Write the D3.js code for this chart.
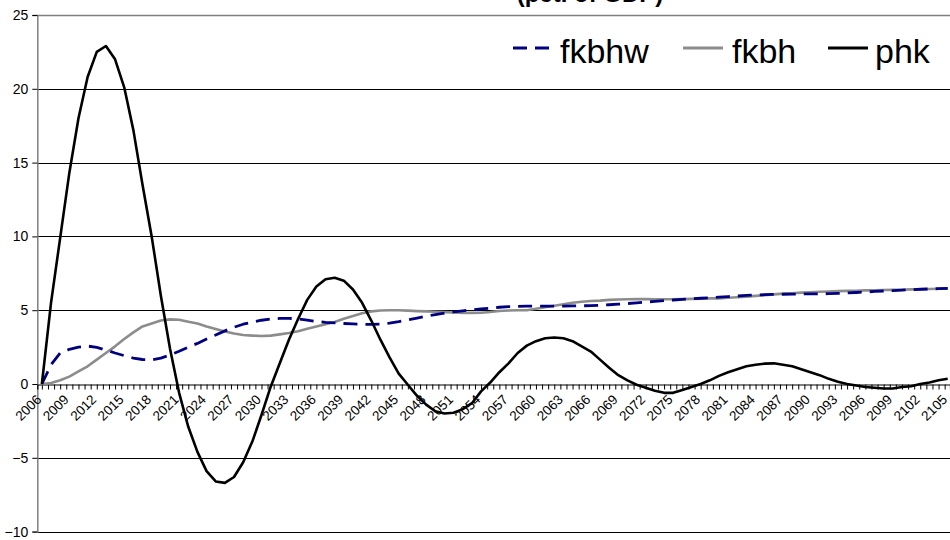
<!DOCTYPE html>
<html>
<head>
<meta charset="utf-8">
<script src="https://cdn.jsdelivr.net/npm/d3@7"></script>
<style>
  html, body { margin: 0; padding: 0; background: #fff; }
  svg { display: block; font-family: "Liberation Sans", Arial, sans-serif; }
</style>
</head>
<body>
<svg id="chart" width="950" height="540"></svg>
<script>
// Years on the category axis
const years = d3.range(2006, 2106);

// Series values, one per year (2006–2105)
const fkbhw = [
  0, 1.3, 2.1, 2.35, 2.5, 2.57, 2.48, 2.3, 2.1, 1.92,
  1.76, 1.66, 1.64, 1.75, 1.97, 2.22, 2.5, 2.75, 3.05, 3.32,
  3.6, 3.85, 4.05, 4.2, 4.32, 4.4, 4.44, 4.45, 4.41, 4.33,
  4.24, 4.18, 4.14, 4.1, 4.07, 4.05, 4.04, 4.06, 4.12, 4.22,
  4.35, 4.47, 4.6, 4.7, 4.8, 4.88, 4.96, 5.03, 5.09, 5.14,
  5.2, 5.24, 5.26, 5.27, 5.28, 5.28, 5.28, 5.28, 5.29, 5.3,
  5.31, 5.34, 5.37, 5.41, 5.45, 5.5, 5.55, 5.6, 5.65, 5.69,
  5.73, 5.77, 5.81, 5.85, 5.88, 5.92, 5.96, 6.0, 6.03, 6.05,
  6.07, 6.08, 6.09, 6.1, 6.1, 6.1, 6.12, 6.14, 6.17, 6.2,
  6.23, 6.27, 6.3, 6.33, 6.36, 6.39, 6.42, 6.44, 6.46, 6.48
];
const fkbh = [
  0, 0.06, 0.25, 0.5, 0.85, 1.2, 1.65, 2.1, 2.55, 3.05,
  3.5, 3.9, 4.1, 4.3, 4.38, 4.35, 4.22, 4.1, 3.9, 3.72,
  3.55, 3.42, 3.32, 3.28, 3.25, 3.28, 3.36, 3.45, 3.58, 3.75,
  3.9, 4.05, 4.2, 4.42, 4.6, 4.8, 4.92, 4.98, 5.0, 5.0,
  4.97, 4.94, 4.92, 4.9, 4.87, 4.84, 4.82, 4.82, 4.83, 4.88,
  4.95, 4.98, 5.0, 5.0, 5.1, 5.2, 5.3, 5.4, 5.5, 5.57,
  5.62, 5.65, 5.7, 5.73, 5.74, 5.75, 5.75, 5.74, 5.74, 5.74,
  5.75, 5.77, 5.78, 5.8, 5.8, 5.84, 5.88, 5.92, 5.97, 6.02,
  6.07, 6.12, 6.15, 6.19, 6.22, 6.25, 6.27, 6.29, 6.31, 6.32,
  6.34, 6.35, 6.37, 6.38, 6.39, 6.41, 6.42, 6.44, 6.45, 6.46
];
const phk = [
  0, 5.5, 9.9, 14.3, 18.0, 20.8, 22.5, 22.9, 22.0, 20.1,
  17.2, 13.5, 10.0, 6.0, 2.4, -0.6, -2.9, -4.6, -5.9, -6.6,
  -6.7, -6.3, -5.3, -3.9, -2.1, -0.2, 1.4, 3.0, 4.4, 5.7,
  6.6, 7.1, 7.2, 7.0, 6.4, 5.5, 4.3, 3.0, 1.8, 0.7,
  -0.05, -0.8, -1.4, -1.85, -2.0, -1.95, -1.7, -1.3, -0.5, 0.1,
  0.8, 1.4, 2.1, 2.6, 2.9, 3.1, 3.15, 3.1, 2.9, 2.55,
  2.2, 1.65, 1.1, 0.6, 0.25, -0.05, -0.25, -0.45, -0.6, -0.6,
  -0.4, -0.2, 0.0, 0.25, 0.55, 0.8, 1.0, 1.2, 1.3, 1.38,
  1.4, 1.3, 1.2, 1.0, 0.8, 0.6, 0.35, 0.15, 0.0, -0.1,
  -0.2, -0.25, -0.3, -0.3, -0.2, -0.15, 0.0, 0.1, 0.25, 0.35
];

// Axis labels
const yTicks = [-10, -5, 0, 5, 10, 15, 20, 25];
const xLabelYears = d3.range(2006, 2106, 3);

const seriesNames = ["fkbhw", "fkbh", "phk"];
const seriesData = [fkbhw, fkbh, phk];
const seriesColor = ["#000080", "#8c8c8c", "#000000"];
const seriesDash = ["14,8", null, null];
const seriesWidth = [2.8, 2.6, 2.6];

const svg = d3.select("#chart");
const plotLeft = 37.3, plotRight = 950, plotTop = 15, plotBottom = 531.6;

const x = d3.scaleLinear().domain([2005.5, 2105.25]).range([plotLeft, plotRight]);
const y = d3.scaleLinear().domain([-10, 25]).range([plotBottom, plotTop]);

// Title line (sits mostly above the top edge)
svg.append("text")
  .attr("x", 590).attr("y", 2)
  .attr("text-anchor", "middle")
  .attr("font-size", 24).attr("font-weight", "bold")
  .text("(pct. of GDP)");

// Horizontal gridlines
svg.append("g")
  .selectAll("line")
  .data(yTicks.filter(d => d !== 0 && d !== 25))
  .join("line")
  .attr("x1", plotLeft).attr("x2", plotRight)
  .attr("y1", d => Math.round(y(d)) + 0.5).attr("y2", d => Math.round(y(d)) + 0.5)
  .attr("stroke", "#000").attr("stroke-width", 1);

// Plot area top border
svg.append("line")
  .attr("x1", plotLeft).attr("x2", plotRight)
  .attr("y1", Math.round(y(25)) + 0.5).attr("y2", Math.round(y(25)) + 0.5)
  .attr("stroke", "#808080").attr("stroke-width", 1.5);

// Value axis
const yAxis = d3.axisLeft(y).tickValues(yTicks).tickSize(5).tickPadding(4);
const gy = svg.append("g")
  .attr("transform", `translate(${plotLeft},0)`)
  .call(yAxis);
gy.select(".domain").attr("stroke", "#808080").attr("stroke-width", 1.5);
gy.selectAll(".tick line").attr("stroke", "#000");
gy.selectAll(".tick text")
  .attr("font-size", 14).attr("fill", "#000")
  .attr("font-family", "Liberation Sans, Arial, sans-serif");

// Category axis along zero with tick marks
const tickYears = d3.range(0, 151).map(k => 2006 + k * 2 / 3).filter(v => v <= 2105.25);
const xAxis = d3.axisBottom(x).tickValues(tickYears).tickSize(5).tickFormat("");
const gx = svg.append("g")
  .attr("transform", `translate(0,${Math.round(y(0)) + 0.5})`)
  .call(xAxis);
gx.select(".domain").attr("stroke", "#000").attr("stroke-width", 1.2);
gx.selectAll(".tick line").attr("stroke", "#000");

// Rotated year labels
svg.append("g")
  .selectAll("text")
  .data(xLabelYears)
  .join("text")
  .attr("transform", d => `translate(${x(d) - 3},${y(0) + 13}) rotate(-45)`)
  .attr("text-anchor", "end")
  .attr("dy", "0.35em")
  .attr("font-size", 13.5)
  .text(d => d);

// Series lines
const line = d3.line().x((d, i) => x(years[i])).y(d => y(d));
svg.append("clipPath").attr("id", "plotclip")
  .append("rect").attr("x", plotLeft).attr("y", 0)
  .attr("width", plotRight - plotLeft).attr("height", 540);

const gl = svg.append("g").attr("clip-path", "url(#plotclip)");
[1, 0, 2].forEach(k => {
  gl.append("path")
    .datum(seriesData[k])
    .attr("d", line)
    .attr("fill", "none")
    .attr("stroke", seriesColor[k])
    .attr("stroke-width", seriesWidth[k])
    .attr("stroke-dasharray", seriesDash[k])
    .attr("stroke-linejoin", "round");
});

// Legend
const legendItems = [
  { x1: 513, x2: 553, tx: 560 },
  { x1: 683, x2: 723, tx: 732 },
  { x1: 828, x2: 868, tx: 875 }
];
const lg = svg.append("g");
legendItems.forEach((it, k) => {
  lg.append("line")
    .attr("x1", it.x1).attr("x2", it.x2)
    .attr("y1", 48).attr("y2", 48)
    .attr("stroke", seriesColor[k])
    .attr("stroke-width", seriesWidth[k] + 0.4)
    .attr("stroke-dasharray", seriesDash[k]);
  lg.append("text")
    .attr("x", it.tx).attr("y", 63)
    .attr("font-size", 34)
    .text(seriesNames[k]);
});
</script>
</body>
</html>
